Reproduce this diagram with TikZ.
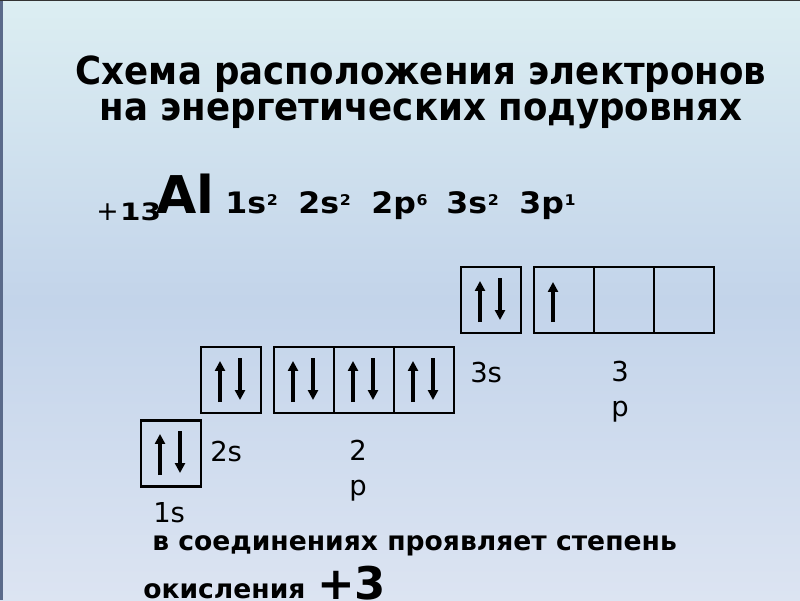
\documentclass[tikz,border=0pt]{standalone}
\usepackage{fontspec}
\usepackage{graphicx}
\setmainfont{DejaVu Sans}
\newfontfamily\titlefont[FakeStretch=0.92]{DejaVu Sans}
\newfontfamily\cfgfont[FakeStretch=1.07]{DejaVu Sans}
\usetikzlibrary{arrows.meta}
\definecolor{cTop}{HTML}{DCEEF2}
\definecolor{cMid}{HTML}{C3D4EA}
\definecolor{cBot}{HTML}{DCE4F2}
\definecolor{cEdge}{HTML}{5A6A8A}
\newcommand\supx[1]{\hspace{0.5pt}\raisebox{5.5pt}{\fontsize{10.5}{12}\selectfont #1}}
\tikzset{
  orb/.style={draw=black, line width=1.5pt, minimum width=42.68pt, minimum height=46.95pt, inner sep=0pt, outer sep=0pt},
  spin/.style={line width=2.8pt, -{Triangle[width=7pt,length=7pt]}},
  lbl/.style={anchor=base west, inner sep=0pt, font=\fontsize{19.5}{24}\selectfont},
  stk/.style={anchor=base, inner sep=0pt, align=center, font=\fontsize{19.5}{24.2}\selectfont},
  cfg/.style={anchor=base west, inner sep=0pt, font=\cfgfont\bfseries\fontsize{21}{24}\selectfont},
  title/.style={anchor=base, inner sep=0pt, font=\titlefont\bfseries\fontsize{27.5}{32}\selectfont},
  bot/.style={anchor=base west, inner sep=0pt, font=\bfseries\fontsize{18.9}{24}\selectfont},
}
\newcommand\updn[2]{%
  \draw[spin] (#1+19,#2+55) -- (#1+19,#2+14);
  \draw[spin] (#1+39,#2+11) -- (#1+39,#2+53);}
\begin{document}
\begin{tikzpicture}[x=0.025cm,y=-0.025cm]
\useasboundingbox (0,0) rectangle (800,600);
% background
\shade[top color=cTop, bottom color=cMid] (0,0) rectangle (800,300);
\shade[top color=cMid, bottom color=cBot] (0,300) rectangle (800,600);
\fill[cEdge] (0,0) rectangle (2.5,600);
\fill[black!80] (0,0) rectangle (800,1.2);
% title
\node[title] (t1) at (421,84) {Схема расположения электронов};
\node[title] (t2) at (421,120) {на энергетических подуровнях};
% formula
\node[anchor=base west, inner sep=0pt, font=\fontsize{19}{20}\selectfont] (z) at (96,220) {+\hspace{1pt}\scalebox{1.15}[1]{\cfgfont\bfseries\fontsize{17}{20}\selectfont 13}};
\node[anchor=base west, inner sep=0pt, font=\bfseries\fontsize{37}{40}\selectfont] (al) at (156,213) {Al};
\node[cfg] (c1) at (225,213) {1s\supx{2}};
\node[cfg] (c2) at (298,213) {2s\supx{2}};
\node[cfg] (c3) at (371,213) {2p\supx{6}};
\node[cfg] (c4) at (446,213) {3s\supx{2}};
\node[cfg] (c5) at (519,213) {3p\supx{1}};
% orbitals
\node[orb] (s1) at (171,453.5) {};
\node[orb] (s2) at (231,380) {};
\node[orb] (p2a) at (304,380) {};
\node[orb] (p2b) at (364,380) {};
\node[orb] (p2c) at (424,380) {};
\node[orb] (s3) at (491,300) {};
\node[orb] (p3a) at (564,300) {};
\node[orb] (p3b) at (624,300) {};
\node[orb] (p3c) at (684,300) {};
\updn{141}{420}
\updn{201}{347}
\updn{274}{347}
\updn{334}{347}
\updn{394}{347}
\updn{461}{267}
\draw[spin] (553,322) -- (553,282);
% labels
\node[lbl] (l3s) at (470,382) {3s};
\node[stk] (l3p) at (620,416) {3\\p};
\node[lbl] (l2s) at (210,461) {2s};
\node[stk] (l2p) at (358,495) {2\\p};
\node[lbl] (l1s) at (153,522) {1s};
% bottom text
\node[bot] (b1) at (152,550) {в соединениях проявляет степень};
\node[bot] (b2) at (143,598) {окисления};
\node[anchor=base west, inner sep=0pt, font=\bfseries\fontsize{32}{36}\selectfont] (b3) at (317,599) {+3};
\end{tikzpicture}
\end{document}
